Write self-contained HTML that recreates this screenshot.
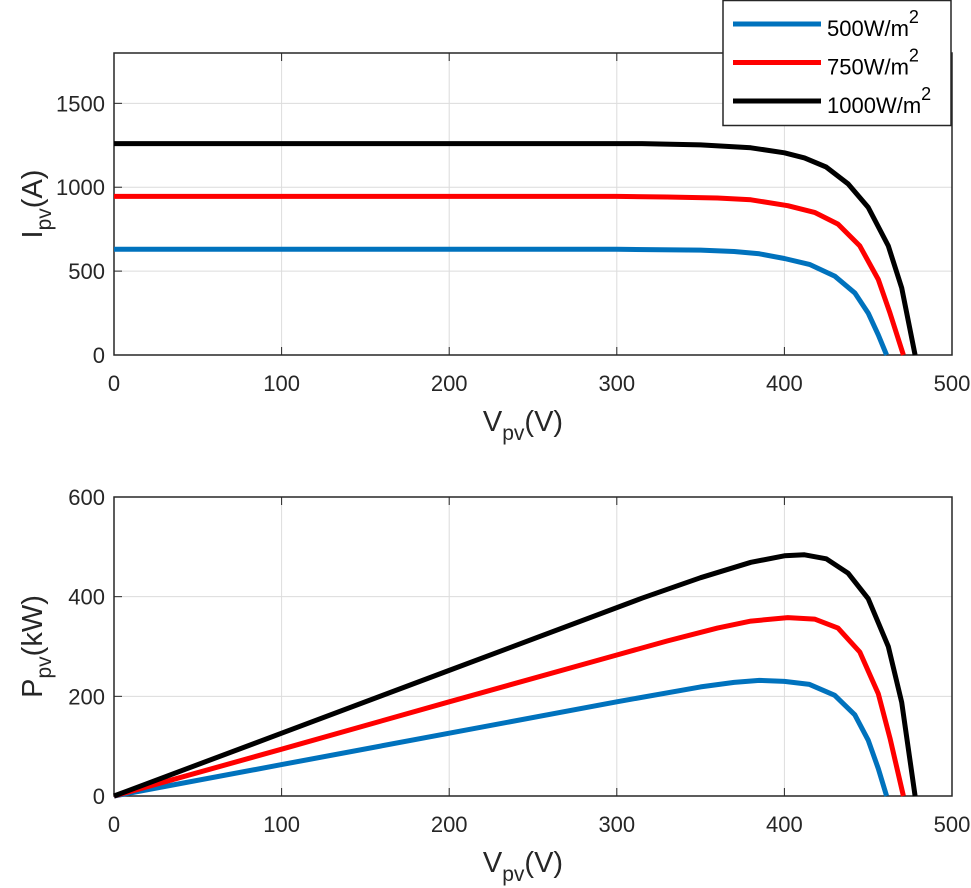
<!DOCTYPE html>
<html><head><meta charset="utf-8"><style>
body{margin:0;background:#fff;}
svg{display:block;font-family:"Liberation Sans",Arial,sans-serif;}
</style></head><body>
<svg id="chart" width="971" height="888" viewBox="0 0 971 888" xmlns="http://www.w3.org/2000/svg"></svg>
<script>
const xTicks=[0,100,200,300,400,500];
const iTicks=[0,500,1000,1500];
const pTicks=[0,200,400,600];
const seriesNames=["500W/m","750W/m","1000W/m"];
const seriesColors=["#0072BD","#FF0000","#000000"];
const v500=[0,100,200,300,350,370,385,400,415,430,442,450,456,461];
const i500=[630,630,630,630,625,617,603,575,540,470,370,250,120,0];
const p500=[0,63,126,189,219,228,232,230,224,202,163,112,55,0];
const v750=[0,100,200,300,330,360,380,402,418,432,445,456,463,471];
const i750=[945,945,945,945,942,936,925,890,850,780,650,450,250,0];
const p750=[0,94,189,283,311,337,351,358,355,337,289,205,116,0];
const v1000=[0,100,200,315,350,380,400,412,425,438,450,462,470,478];
const i1000=[1260,1260,1260,1260,1252,1235,1205,1175,1120,1020,880,650,400,0];
const p1000=[0,126,252,397,438,469,482,484,476,447,396,300,188,0];

const svg=document.getElementById('chart');
const NS="http://www.w3.org/2000/svg";
function mk(tag,attrs,parent){const e=document.createElementNS(NS,tag);for(const k in attrs)e.setAttribute(k,attrs[k]);(parent||svg).appendChild(e);return e;}
const L=114,R=952;
const sx=v=>L+(v-0)/(500)*(R-L);
function panel(top,bot,ymax,yTicks,vs,ys,ytitleMain,ytitleUnit,prefix){
  const sy=v=>bot-(v/ymax)*(bot-top);
  const g=mk('g',{});
  
  
  mk('rect',{x:L,y:top,width:R-L,height:bot-top,fill:'#fff'},g);
  xTicks.forEach(t=>{
    const l=mk('line',{x1:sx(t),x2:sx(t),y1:top,y2:bot,stroke:'#dcdcdc','stroke-width':1},g);
    
    
    const tx=mk('text',{x:sx(t),y:bot+36,'text-anchor':'middle','font-size':22,fill:'#262626'},g);
    tx.textContent=t;
    
    
    mk('line',{x1:sx(t),x2:sx(t),y1:bot,y2:bot-8,stroke:'#262626'},g);
    mk('line',{x1:sx(t),x2:sx(t),y1:top,y2:top+8,stroke:'#262626'},g);
  });
  yTicks.forEach(t=>{
    const l=mk('line',{x1:L,x2:R,y1:sy(t),y2:sy(t),stroke:'#dcdcdc','stroke-width':1},g);
    
    
    const tx=mk('text',{x:L-9,y:sy(t)+8,'text-anchor':'end','font-size':22,fill:'#262626'},g);
    tx.textContent=t;
    
    
    mk('line',{x1:L,x2:L+8,y1:sy(t),y2:sy(t),stroke:'#262626'},g);
  });
  const ax=mk('rect',{x:L,y:top,width:R-L,height:bot-top,fill:'none',stroke:'#262626','stroke-width':1.5},g);
  
  
  vs.forEach((v,k)=>{
    const d=v.map((x,j)=>(j?'L':'M')+sx(x).toFixed(1)+','+sy(ys[k][j]).toFixed(1)).join(' ');
    const p=mk('path',{d:d,fill:'none',stroke:seriesColors[k],'stroke-width':5,'stroke-linejoin':'round'},g);
    
    
  });
  const xt=mk('text',{x:(L+R)/2-10,y:bot+76,'text-anchor':'middle','font-size':29,fill:'#262626'},g);
  xt.innerHTML='V<tspan font-size="21" dy="9">pv</tspan><tspan dy="-9">(V)</tspan>';
  
  
  const cy=(top+bot)/2;
  const yt=mk('text',{x:0,y:0,'text-anchor':'middle','font-size':29,fill:'#262626',transform:`translate(42,${cy}) rotate(-90)`},g);
  yt.innerHTML=ytitleMain+'<tspan font-size="21" dy="9">pv</tspan><tspan dy="-9">'+ytitleUnit+'</tspan>';
  
  
}
panel(53,355,1800,iTicks,[v500,v750,v1000],[i500,i750,i1000],'I','(A)','iv');
panel(497,796,600,pTicks,[v500,v750,v1000],[p500,p750,p1000],'P','(kW)','pv');

const lg=mk('g',{});


mk('rect',{x:723,y:0.5,width:228,height:125,fill:'#fff',stroke:'#262626','stroke-width':1.5},lg);
seriesNames.forEach((n,k)=>{
  const y=24+k*38.5;
  const l=mk('line',{x1:733,x2:821,y1:y,y2:y,stroke:seriesColors[k],'stroke-width':5},lg);
  
  
  const t=mk('text',{x:827,y:y+12,'font-size':22,fill:'#000'},lg);
  t.innerHTML=n+'<tspan font-size="18" dy="-13">2</tspan>';
  
  
});
</script>
</body></html>
